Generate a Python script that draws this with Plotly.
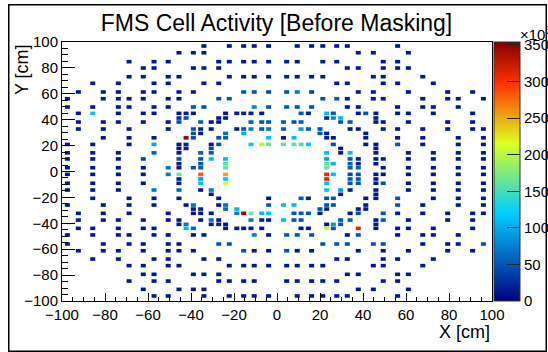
import plotly.graph_objects as go

# FMS cell activity (x10^3 hits), row by row
row_y = [96.9, 91.7, 84.8, 79.9, 73.2, 68.1, 61.4, 56.2, 49.8, 44.9, 41.3, 38.2, 32.8, 29.4,
         26.0, 20.9, 17.8, 14.4, 9.7, 6.0, 2.9,
         -2.2, -5.8, -9.1, -14.3, -17.6, -20.7, -25.9, -29.0, -32.3, -37.5, -40.8, -43.9,
         -49.0, -56.0, -61.2, -67.6, -72.7, -79.4, -84.6, -91.0, -96.1]

row_x = [
    [-34.0, -22.2, -15.5, -10.6, -3.9, 9.4, 16.1, 21.3, 27.8, 32.7, 56.1],
    [-45.6, -38.9, -34.0, 37.8, 44.8, 61.1],
    [-68.8, -57.2, -50.6, -27.1, -22.2, -15.5, -10.6, -3.9, 4.5, 9.4, 21.3, 27.8, 49.4, 56.1],
    [-62.2, -57.2, -38.9, -34.0, -27.1, 32.7, 37.8, 49.4, 56.1, 61.1],
    [-68.8, -62.2, -50.6, -45.6, -22.2, -15.5, -10.6, -3.9, 4.5, 9.4, 16.1, 21.3, 44.8, 49.4, 67.8],
    [-85.7, -73.8, -57.2, -50.6, -34.0, -27.1, 27.8, 32.7, 49.4, 56.1, 72.7],
    [-92.4, -80.8, -73.8, -62.2, -57.2, -45.6, -38.9, -15.5, -10.6, -3.9, 4.5, 9.4, 16.1, 37.8, 44.8, 61.1, 79.4, 91.0],
    [-97.5, -80.8, -73.8, -68.8, -62.2, -50.6, -45.6, -27.1, -22.2, 21.3, 27.8, 32.7, 44.8, 49.4, 67.8, 79.4, 84.3, 96.0],
    [-97.5, -85.7, -73.8, -68.8, -57.2, -50.6, -38.9, -34.0, -10.6, -3.9, 4.5, 9.4, 16.1, 32.7, 37.8, 56.1, 67.8, 72.7, 84.3],
    [-92.4, -85.7, -73.8, -62.2, -57.2, -45.6, -42.3, -38.9, -23.9, -18.7, -15.5, -12.1, -7.1, 11.2, 14.6, 23.1, 26.2, 37.8, 41.3, 46.0, 56.1, 61.1, 72.7, 91.0],
    [-45.6, -42.3, -27.1, -23.9, 23.1, 26.2, 29.6, 46.0],
    [-92.4, -80.8, -73.8, -62.2, -50.6, -45.6, -35.5, -30.6, -27.1, -12.1, -7.1, -3.9, 3.0, 7.9, 11.2, 29.6, 34.0, 46.0, 49.4, 61.1, 79.4, 91.0],
    [-92.4, -80.8, -68.8, -50.6, -38.9, -35.5, -30.6, -18.7, -15.5, -12.1, -7.1, -3.9, 3.0, 11.2, 14.6, 20.0, 34.0, 37.8, 49.4, 56.1, 67.8, 79.4, 91.0, 96.0],
    [-38.9, -35.5, -23.9, -15.5, 20.0, 23.1, 41.3],
    [-80.8, -68.8, -57.2, -42.3, -38.9, -27.1, -23.9, -3.9, 3.0, 7.9, 23.1, 26.2, 41.3, 56.1, 67.8, 84.3, 96.0],
    [-97.5, -85.7, -68.8, -57.2, -45.6, -42.3, -30.6, -27.1, -12.1, -7.1, -3.9, 3.0, 7.9, 11.2, 14.6, 26.2, 41.3, 46.0, 56.1, 67.8, 84.3, 96.0],
    [-45.6, -42.3, -30.6, 29.6, 46.0],
    [-97.5, -85.7, -73.8, -57.2, -45.6, -35.5, -30.6, 23.1, 29.6, 34.0, 46.0, 61.1, 72.7, 84.3, 96.0],
    [-97.5, -85.7, -73.8, -62.2, -45.6, -35.5, -30.6, -23.9, 23.1, 34.0, 37.8, 46.0, 49.4, 61.1, 72.7, 84.3, 96.0],
    [-45.6, -35.5, -23.9, 23.1, 26.2, 34.0, 37.8, 46.0],
    [-97.5, -85.7, -73.8, -62.2, -50.6, -45.6, -38.9, -35.5, -23.9, 23.1, 34.0, 37.8, 49.4, 61.1, 72.7, 84.3, 96.0],
    [-97.5, -85.7, -73.8, -62.2, -50.6, -45.6, -35.5, -23.9, 23.1, 26.2, 34.0, 37.8, 46.0, 49.4, 61.1, 72.7, 84.3, 96.0],
    [-45.6, -35.5, -23.9, 23.1, 34.0, 37.8, 46.0],
    [-97.5, -85.7, -73.8, -62.2, -45.6, -35.5, -23.9, 23.1, 34.0, 37.8, 46.0, 49.4, 61.1, 72.7, 84.3, 96.0],
    [-97.5, -85.7, -73.8, -57.2, -45.6, -35.5, -30.6, 23.1, 29.6, 34.0, 46.0, 61.1, 72.7, 84.3, 96.0],
    [-30.6, 29.6, 46.0],
    [-85.7, -68.8, -57.2, -45.6, -27.1, -3.9, 11.2, 14.6, 23.1, 26.2, 41.3, 46.0, 56.1, 72.7, 84.3, 96.0],
    [-97.5, -80.8, -68.8, -57.2, -42.3, -38.9, -27.1, -23.9, -3.9, 3.0, 7.9, 23.1, 26.2, 41.3, 56.1, 67.8, 84.3, 96.0],
    [-38.9, -35.5, -23.9, -18.7, 20.0, 23.1, 37.8, 41.3],
    [-92.4, -80.8, -68.8, -50.6, -38.9, -35.5, -30.6, -18.7, -15.5, -12.1, -7.1, -3.9, 7.9, 11.2, 14.6, 20.0, 34.0, 37.8, 49.4, 56.1, 67.8, 79.4, 91.0, 96.0],
    [-92.4, -80.8, -73.8, -62.2, -50.6, -45.6, -35.5, -30.6, -27.1, -12.1, -7.1, -3.9, 3.0, 7.9, 11.2, 29.6, 34.0, 46.0, 49.4, 61.1, 79.4, 91.0],
    [-45.6, -42.3, -30.6, -27.1, -23.9, 23.1, 26.2, 29.6, 46.0],
    [-92.4, -85.7, -73.8, -62.2, -57.2, -42.3, -38.9, -23.9, -18.7, -15.5, -12.1, -7.1, 11.2, 14.6, 23.1, 26.2, 37.8, 46.0, 56.1, 61.1, 72.7, 91.0],
    [-97.5, -85.7, -73.8, -68.8, -57.2, -50.6, -38.9, -34.0, -10.6, -3.9, 4.5, 9.4, 16.1, 32.7, 37.8, 56.1, 67.8, 72.7, 84.3],
    [-97.5, -80.8, -68.8, -62.2, -50.6, -45.6, -27.1, -22.2, 21.3, 27.8, 32.7, 44.8, 49.4, 67.8, 79.4, 84.3, 96.0],
    [-92.4, -80.8, -73.8, -62.2, -50.6, -45.6, -38.9, -15.5, -10.6, -3.9, 4.5, 9.4, 16.1, 37.8, 49.4, 61.1, 79.4, 91.0],
    [-85.7, -73.8, -57.2, -50.6, -34.0, -27.1, 27.8, 32.7, 49.4, 56.1, 72.7],
    [-68.8, -62.2, -50.6, -45.6, -22.2, -15.5, -10.6, -3.9, 4.5, 9.4, 16.1, 21.3, 44.8, 49.4, 67.8],
    [-62.2, -57.2, -38.9, -34.0, -27.1, 32.7, 37.8, 56.1, 61.1],
    [-68.8, -57.2, -50.6, -27.1, -22.2, -15.5, -10.6, 4.5, 9.4, 16.1, 21.3, 27.8, 49.4, 56.1],
    [-62.2, -45.6, -38.9, -34.0, 37.8, 44.8, 61.1],
    [-57.2, -50.6, -34.0, -22.2, -15.5, -10.6, -3.9, 9.4, 16.1, 21.3, 27.8, 32.7, 56.1],
]

row_z = [
    [15, 15, 15, 15, 15, 15, 15, 15, 15, 15, 15],
    [15, 15, 15, 15, 15, 15],
    [15, 15, 15, 15, 15, 15, 15, 15, 15, 15, 15, 15, 15, 15],
    [15, 15, 15, 15, 15, 15, 15, 15, 15, 15],
    [15, 15, 15, 15, 15, 15, 15, 15, 15, 15, 15, 15, 15, 15, 15],
    [15, 15, 15, 15, 15, 15, 15, 15, 15, 15, 15],
    [15, 15, 15, 15, 15, 15, 15, 50, 50, 45, 50, 70, 45, 15, 15, 15, 15, 15],
    [15, 15, 15, 15, 15, 15, 15, 50, 50, 50, 50, 15, 15, 15, 15, 15, 15, 15],
    [15, 15, 15, 15, 15, 15, 50, 45, 80, 50, 55, 50, 50, 15, 15, 15, 15, 15, 15],
    [15, 115, 15, 15, 15, 15, 20, 15, 15, 15, 20, 20, 15, 50, 20, 110, 50, 15, 50, 15, 15, 15, 15, 15],
    [30, 45, 15, 15, 20, 80, 110, 15],
    [15, 15, 15, 15, 15, 45, 55, 15, 15, 55, 50, 55, 55, 50, 55, 50, 50, 15, 15, 15, 15, 15],
    [15, 15, 15, 15, 50, 20, 15, 15, 50, 75, 55, 70, 55, 90, 55, 50, 15, 15, 15, 15, 15, 15, 15, 15],
    [45, 15, 65, 105, 50, 20, 15],
    [15, 15, 15, 345, 45, 50, 55, 115, 15, 110, 20, 15, 15, 15, 15, 15, 15],
    [15, 15, 15, 95, 15, 20, 15, 50, 115, 200, 165, 160, 160, 150, 115, 45, 15, 15, 50, 15, 15, 15],
    [15, 20, 45, 15, 15],
    [15, 15, 15, 55, 15, 55, 50, 110, 15, 110, 15, 15, 15, 15, 15],
    [15, 15, 15, 45, 50, 50, 110, 110, 95, 55, 20, 15, 15, 15, 15, 15, 15],
    [20, 50, 155, 160, 110, 55, 20, 15],
    [15, 15, 15, 15, 70, 15, 50, 55, 165, 165, 55, 55, 15, 15, 15, 15, 15],
    [15, 15, 15, 15, 75, 165, 280, 250, 305, 110, 45, 45, 15, 15, 15, 15, 15, 15],
    [20, 95, 115, 310, 50, 50, 15],
    [15, 15, 15, 15, 20, 110, 215, 110, 50, 50, 15, 50, 15, 15, 15, 15],
    [15, 15, 15, 70, 60, 15, 70, 115, 95, 20, 15, 15, 15, 15, 15],
    [20, 20, 15],
    [15, 15, 15, 15, 15, 15, 55, 20, 50, 50, 15, 15, 50, 15, 15, 15],
    [15, 15, 15, 15, 15, 65, 15, 65, 55, 110, 110, 50, 50, 15, 50, 15, 15, 15],
    [15, 20, 65, 105, 50, 20, 15, 15],
    [15, 15, 15, 15, 15, 15, 15, 75, 345, 170, 110, 115, 50, 55, 50, 15, 15, 45, 50, 15, 15, 15, 15, 15],
    [15, 15, 15, 15, 15, 15, 15, 65, 15, 70, 15, 15, 110, 50, 50, 50, 50, 15, 50, 15, 15, 15],
    [15, 70, 15, 15, 15, 15, 90, 50, 15],
    [15, 15, 15, 15, 15, 110, 60, 15, 15, 15, 15, 15, 15, 15, 200, 50, 310, 15, 15, 15, 15, 15],
    [15, 15, 15, 15, 15, 15, 15, 15, 75, 15, 50, 50, 50, 15, 50, 15, 15, 15, 15],
    [15, 15, 15, 15, 15, 15, 50, 50, 50, 50, 50, 50, 50, 15, 15, 15, 50],
    [15, 15, 15, 15, 15, 15, 15, 50, 15, 15, 50, 15, 15, 15, 15, 15, 15, 15],
    [15, 15, 15, 15, 15, 15, 15, 15, 15, 15, 15],
    [15, 15, 15, 15, 15, 15, 15, 15, 15, 15, 15, 15, 15, 15, 15],
    [15, 15, 15, 15, 15, 15, 15, 15, 15],
    [15, 15, 15, 15, 15, 15, 15, 15, 15, 15, 15, 15, 15, 15],
    [15, 15, 15, 15, 15, 15, 15],
    [15, 15, 15, 15, 15, 15, 15, 15, 15, 15, 15, 15, 15],
]

axis_ticks = [-100, -80, -60, -40, -20, 0, 20, 40, 60, 80, 100]
cbar_ticks = [0, 50, 100, 150, 200, 250, 300, 350]
z_max = 354

# flatten the table for the library
xs, ys, zs = [], [], []
for yv, xr, zr in zip(row_y, row_x, row_z):
    for xv, zv in zip(xr, zr):
        xs.append(xv)
        ys.append(yv)
        zs.append(zv)

palette = [[0.0, "rgb(0,0,130)"], [0.34, "rgb(0,207,255)"], [0.61, "rgb(222,255,31)"],
           [0.84, "rgb(255,51,0)"], [1.0, "rgb(130,0,0)"]]

FONT = "Liberation Sans, Arial, Helvetica, sans-serif"

fig = go.Figure(go.Scatter(
    x=xs, y=ys, mode="markers",
    marker=dict(
        symbol="line-ew", size=3.6,
        color=zs, colorscale=palette, cmin=0, cmax=z_max,
        line=dict(width=3.6, color=zs, colorscale=palette, cmin=0, cmax=z_max),
        colorbar=dict(
            x=1.0058, xanchor="left", xpad=0, ypad=0,
            y=0.5, yanchor="middle", len=1, lenmode="fraction",
            thickness=26, thicknessmode="pixels",
            outlinewidth=1, outlinecolor="#333",
            tickvals=cbar_ticks, ticks="inside", ticklen=13, tickwidth=1, tickcolor="#222",
            tickfont=dict(family=FONT, size=15, color="black"),
        ),
    ),
    hoverinfo="skip",
))

common = dict(showgrid=False, zeroline=False, showline=True, mirror=True,
              linecolor="black", linewidth=1, ticks="inside", tickwidth=1, tickcolor="black",
              tickfont=dict(family=FONT, size=15, color="black"), tickvals=axis_ticks)

fig.update_layout(
    width=548, height=352,
    margin=dict(l=62, r=56, t=42, b=51, autoexpand=False),
    paper_bgcolor="white", plot_bgcolor="white",
    showlegend=False,
    title=dict(text="FMS Cell Activity [Before Masking]", x=0.5046, xanchor="center",
               y=0.935, yanchor="middle", font=dict(family=FONT, size=23, color="black")),
    xaxis=dict(range=[-100, 100], ticklen=8,
               minor=dict(dtick=5, ticklen=4, ticks="inside", tickcolor="black", tickwidth=1),
               **common),
    yaxis=dict(range=[-100, 100], ticklen=13,
               minor=dict(dtick=5, ticklen=6, ticks="inside", tickcolor="black", tickwidth=1),
               **common),
    annotations=[
        dict(text="X [cm]", xref="paper", yref="paper", x=1.0, y=-0.12,
             xanchor="right", yanchor="middle", showarrow=False,
             font=dict(family=FONT, size=18, color="black")),
        dict(text="Y [cm]", xref="paper", yref="paper", x=-0.094, y=1.0,
             xanchor="center", yanchor="top", textangle=-90, showarrow=False,
             font=dict(family=FONT, size=18, color="black")),
        dict(text="×10<sup>3</sup>", xref="paper", yref="paper", x=1.0616, y=1.031,
             xanchor="left", yanchor="middle", showarrow=False,
             font=dict(family=FONT, size=15, color="black")),
        # canvas frame
        dict(text="\u00a0", xref="paper", yref="paper", x=0.5, y=0.4768,
             xanchor="center", yanchor="middle", showarrow=False,
             width=536, height=345, borderpad=0, borderwidth=1.5, bordercolor="black"),
    ],
)

fig.write_html("out.html", config={"displayModeBar": False},
               post_script="document.body.style.margin='0px';")
